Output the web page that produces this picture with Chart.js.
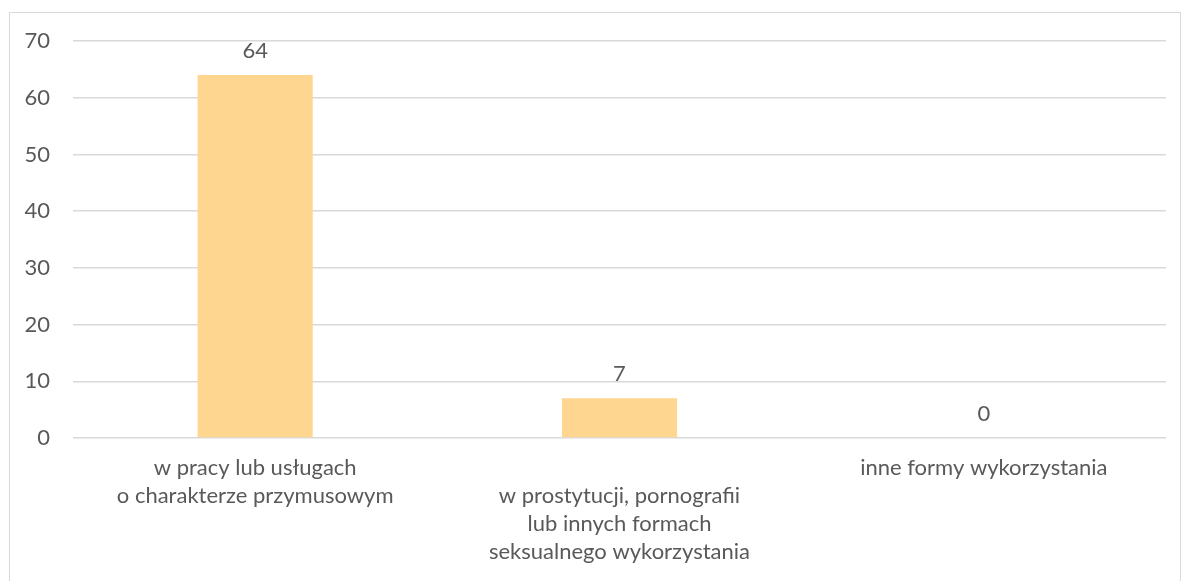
<!DOCTYPE html>
<html>
<head>
<meta charset="utf-8">
<script src="https://cdn.jsdelivr.net/npm/chart.js@4.4.1/dist/chart.umd.min.js"></script>
<style>
  html, body { margin: 0; padding: 0; background: #fff; overflow: hidden; }
  #box {
    position: absolute; left: 9px; top: 12px;
    width: 1172px; height: 580px;
    border: 1px solid #d9d9d9; box-sizing: border-box;
  }
</style>
</head>
<body>
<div id="box"><canvas id="bar-chart" width="1170" height="578"></canvas></div>
<script>
// dane z wykresu
const kategorie = [
  ['w pracy lub usługach', 'o charakterze przymusowym'],
  ['', 'w prostytucji, pornografii', 'lub innych formach', 'seksualnego wykorzystania'],
  ['inne formy wykorzystania']
];
const wartosci = [64, 7, 0];
const osY = [0, 10, 20, 30, 40, 50, 60, 70];

const kolorTekstu = '#595959';
const czcionka = 'Lato, "Noto Sans", sans-serif';
const rozmiar = 22;

// etykiety wartości nad słupkami
const etykiety = {
  id: 'etykiety',
  afterDatasetsDraw(chart) {
    const ctx = chart.ctx;
    const meta = chart.getDatasetMeta(0);
    ctx.save();
    ctx.fillStyle = kolorTekstu;
    ctx.font = rozmiar + 'px ' + czcionka;
    ctx.textAlign = 'center';
    ctx.textBaseline = 'middle';
    meta.data.forEach((bar, i) => {
      ctx.fillText(String(wartosci[i]), bar.x, bar.y - 24);
    });
    ctx.restore();
  }
};

const ctx = document.getElementById('bar-chart').getContext('2d');
new Chart(ctx, {
  type: 'bar',
  data: {
    labels: kategorie,
    datasets: [{
      data: wartosci,
      backgroundColor: '#ffd68f',
      categoryPercentage: 1,
      barPercentage: 0.316
    }]
  },
  options: {
    responsive: false,
    animation: false,
    layout: { padding: { top: 28, right: 14, bottom: 0, left: 0 } },
    plugins: { legend: { display: false }, tooltip: { enabled: false } },
    scales: {
      x: {
        grid: { display: false, drawTicks: false },
        border: { display: false },
        afterFit: (axis) => {
          axis.height = 153;
          axis.paddingLeft = 0; axis.paddingRight = 0;
        },
        ticks: {
          color: kolorTekstu, padding: 16, maxRotation: 0, autoSkip: false,
          font: { family: czcionka, size: rozmiar, lineHeight: '28px' }
        }
      },
      y: {
        min: 0, max: 70,
        afterBuildTicks: (axis) => { axis.ticks = osY.map(v => ({ value: v })); },
        afterFit: (axis) => {
          axis.width = 63;
          axis.paddingTop = 0; axis.paddingBottom = 0;
        },
        grid: { color: '#d9d9d9', lineWidth: 1.5, drawTicks: false },
        border: { display: false },
        ticks: {
          color: kolorTekstu, padding: 23,
          font: { family: czcionka, size: rozmiar }
        }
      }
    }
  },
  plugins: [etykiety]
});
</script>
</body>
</html>
